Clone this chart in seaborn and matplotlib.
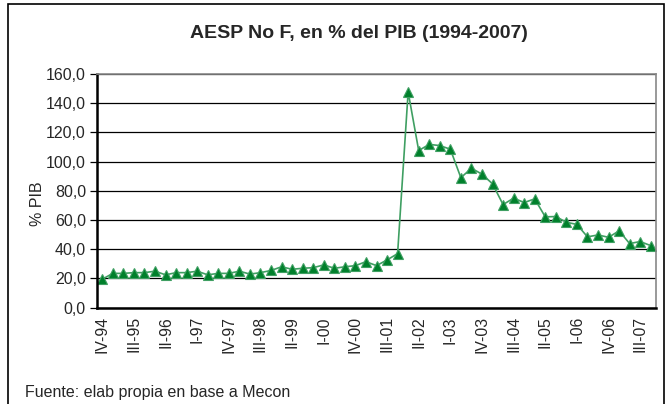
import matplotlib
matplotlib.use("Agg")
import matplotlib.pyplot as plt
import numpy as np
import pandas as pd
import seaborn as sns

# ── Data ──────────────────────────────────────────────────────────────────
roman = ["I", "II", "III", "IV"]
quarters = [f"{roman[q]}-{y % 100:02d}" for y in range(1994, 2008) for q in range(4)][3:]

aesp_pib = [
    19.5, 23.5, 23.5, 24.0, 24.0, 25.0, 22.5, 24.0, 24.0, 25.0,
    22.5, 23.5, 23.5, 25.0, 23.0, 24.0, 25.5, 28.0, 26.3, 27.0,
    27.4, 29.3, 27.0, 28.0, 28.8, 31.5, 28.8, 32.7, 37.0, 147.7,
    107.6, 111.8, 111.0, 108.5, 89.0, 95.5, 91.4, 84.8, 70.6, 75.0,
    72.0, 74.5, 62.2, 62.4, 58.5, 57.0, 48.5, 49.8, 48.2, 52.6,
    43.9, 45.3, 42.5,
]

df = pd.DataFrame({"idx": np.arange(len(aesp_pib)), "quarter": quarters, "val": aesp_pib})

# ── Figure ────────────────────────────────────────────────────────────────
sns.set_style("white")
plt.rcParams["font.family"] = ["Liberation Sans", "DejaVu Sans"]

fig = plt.figure(figsize=(6.72, 4.04), dpi=100)
ax = fig.add_axes([97 / 672, 1 - 307.7 / 404, (656 - 97) / 672, (307.7 - 74) / 404])

sns.lineplot(
    data=df, x="idx", y="val", ax=ax,
    color="#3f9f62", linewidth=1.2,
    marker="^", markersize=6.5,
    markerfacecolor="#00802b", markeredgecolor="#3f9f62", markeredgewidth=0.8,
)

ax.set_xlim(-0.5, len(aesp_pib) - 0.5)
ax.set_ylim(0, 160)
ax.set_yticks(np.arange(0, 161, 20))
ax.set_yticklabels([f"{v:.1f}".replace(".", ",") for v in range(0, 161, 20)], fontsize=11.5)
ax.grid(axis="y", color="black", linewidth=0.9)
ax.set_axisbelow(True)

# category ticks between points, labels every 3rd quarter
ax.set_xticks(np.arange(-0.5, len(aesp_pib), 1), minor=True)
ax.set_xticks(df["idx"][::3])
ax.set_xticklabels(df["quarter"][::3], rotation=90, fontsize=11.3)
ax.tick_params(axis="x", which="major", length=0, pad=6)
ax.tick_params(axis="x", which="minor", length=4, width=0.9, color="black", direction="out")
ax.tick_params(axis="y", length=5, width=0.9, color="black", direction="out", left=True, pad=3)

ax.set_xlabel("")
ax.set_ylabel("% PIB", fontsize=11.5)
ax.yaxis.set_label_coords((45 - 97) / 559, 0.444)

for side in ["left", "bottom"]:
    ax.spines[side].set_color("black")
    ax.spines[side].set_linewidth(1.8)
for side in ["top", "right"]:
    ax.spines[side].set_color("#888888")
    ax.spines[side].set_linewidth(1.2)

fig.text((190 + 527) / 2 / 672, 1 - 33 / 404, "AESP No F, en % del PIB (1994-2007)",
         ha="center", va="center", fontsize=14, fontweight="bold")
fig.text(25 / 672, 1 - 392 / 404, "Fuente: elab propia en base a Mecon",
         ha="left", va="center", fontsize=11.5)

# outer chart frame (bottom edge runs off the image)
fig.patches.append(plt.Rectangle((8 / 672, -0.05), (664 - 8) / 672, 1.05 - 4 / 404,
                                 transform=fig.transFigure, fill=False,
                                 edgecolor="black", linewidth=1.2))

fig.savefig("out.png", dpi=100)
